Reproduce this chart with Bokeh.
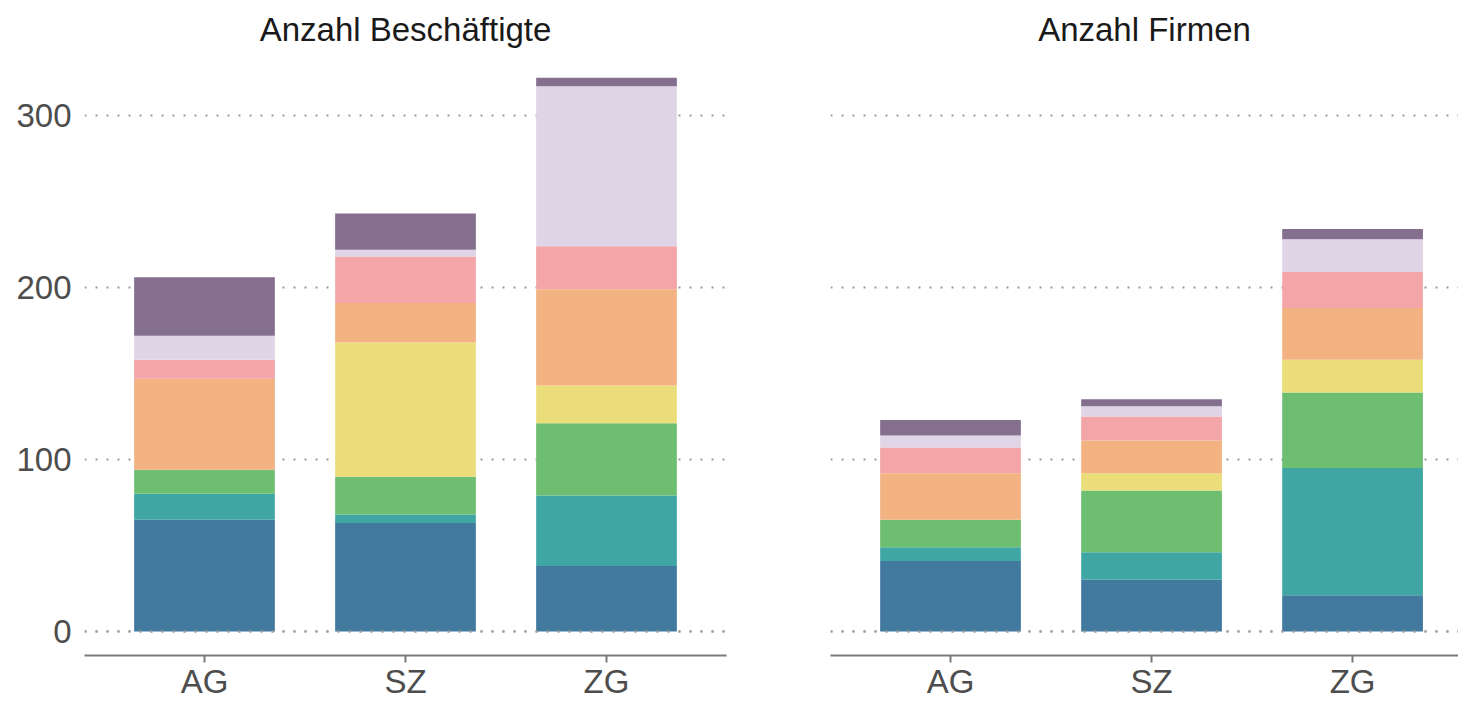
from bokeh.plotting import figure
from bokeh.layouts import row
from bokeh.models import ColumnDataSource, Range1d, FixedTicker, Span
from bokeh.embed import file_html
from bokeh.resources import INLINE

# ---------------- data ----------------
categories = ["AG", "SZ", "ZG"]
series = ["Gruppe 1", "Gruppe 2", "Gruppe 3", "Gruppe 4",
          "Gruppe 5", "Gruppe 6", "Gruppe 7", "Gruppe 8"]
colors = ["#41799f", "#40a6a4", "#6dbe70", "#ebdd7a",
          "#f3b282", "#f3a5a8", "#e0d5e6", "#856f8f"]

# Anzahl Beschäftigte (per series: AG, SZ, ZG)
besch_1 = [65, 63, 38]
besch_2 = [15, 5, 41]
besch_3 = [14, 22, 42]
besch_4 = [0, 78, 22]
besch_5 = [53, 23, 56]
besch_6 = [11, 27, 25]
besch_7 = [14, 4, 93]
besch_8 = [34, 21, 5]

# Anzahl Firmen (per series: AG, SZ, ZG)
firm_1 = [41, 30, 21]
firm_2 = [8, 16, 74]
firm_3 = [16, 36, 44]
firm_4 = [0, 10, 19]
firm_5 = [27, 19, 30]
firm_6 = [15, 14, 21]
firm_7 = [7, 6, 19]
firm_8 = [9, 4, 6]

y_ticks = [0, 100, 200, 300]
titles = ["Anzahl Beschäftigte", "Anzahl Firmen"]

FONT = "Liberation Sans"


def make_panel(title, values, width, border_left, border_right, x_end, show_y):
    xs = list(range(len(categories)))
    data = {"x": xs}
    for name, vals in zip(series, values):
        data[name] = vals
    src = ColumnDataSource(data)

    p = figure(width=width, height=702, output_backend="svg", toolbar_location=None,
               x_range=Range1d(-0.597, x_end), y_range=Range1d(-14.0, 334.9),
               min_border_left=border_left, min_border_right=border_right,
               min_border_top=10, min_border_bottom=0)
    p.vbar_stack(series, x="x", width=0.7, color=colors, line_color=None, source=src)

    p.title.text = title
    p.title.align = "center"
    p.title.text_font = FONT
    p.title.text_font_size = "33px"
    p.title.text_font_style = "normal"
    p.title.text_color = "#1a1a1a"
    p.title.standoff = 16

    p.outline_line_color = None
    p.background_fill_color = "white"
    p.border_fill_color = "white"

    p.xgrid.visible = False
    p.ygrid.ticker = FixedTicker(ticks=y_ticks)
    p.ygrid.grid_line_color = "#9a9a9a"
    p.ygrid.grid_line_dash = "2 9"
    p.ygrid.grid_line_width = 2.2

    p.add_layout(Span(location=0, dimension="width", line_color="#9a9a9a",
                      line_dash="2 9", line_width=2.2, level="overlay"))

    xa = p.xaxis[0]
    xa.ticker = FixedTicker(ticks=xs)
    xa.major_label_overrides = {i: c for i, c in enumerate(categories)}
    xa.axis_line_color = "#7a7a7a"
    xa.axis_line_width = 2
    xa.major_tick_line_color = "#7a7a7a"
    xa.major_tick_line_width = 2
    xa.major_tick_out = 7
    xa.major_tick_in = 0
    xa.minor_tick_line_color = None
    xa.major_label_standoff = 0
    xa.major_label_text_font = FONT
    xa.major_label_text_font_size = "33px"
    xa.major_label_text_color = "#4d4d4d"
    xa.major_label_text_line_height = 0.8

    ya = p.yaxis[0]
    ya.ticker = FixedTicker(ticks=y_ticks)
    ya.axis_line_color = None
    ya.major_tick_line_color = None
    ya.minor_tick_line_color = None
    ya.major_tick_out = 0
    ya.major_tick_in = 0
    ya.major_label_standoff = 13
    ya.major_label_text_font = FONT
    ya.major_label_text_font_size = "33px"
    ya.major_label_text_color = "#4d4d4d"
    if not show_y:
        ya.visible = False
    return p


besch = [besch_1, besch_2, besch_3, besch_4, besch_5, besch_6, besch_7, besch_8]
firm = [firm_1, firm_2, firm_3, firm_4, firm_5, firm_6, firm_7, firm_8]

p1 = make_panel(titles[0], besch, 768, 84, 42, 2.597, True)
p2 = make_panel(titles[1], firm, 690, 62, 0, 2.527, False)

layout = row(p1, p2)
open("out.html", "w").write(file_html(layout, INLINE))
